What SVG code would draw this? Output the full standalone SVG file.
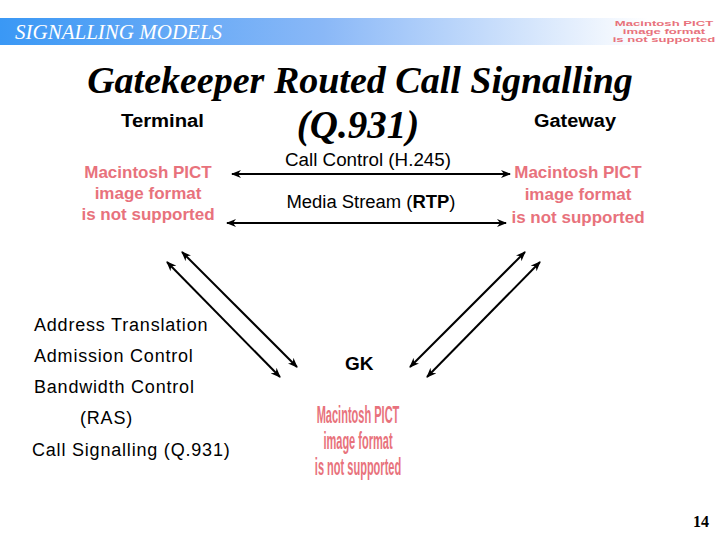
<svg xmlns="http://www.w3.org/2000/svg" width="720" height="540" viewBox="0 0 720 540">
<style>
.sans{font-family:"Liberation Sans",Arial,sans-serif;fill:#000}
.b{font-weight:bold}
.pict{font-family:"Liberation Sans",Arial,sans-serif;font-weight:bold;fill:#E8727C;text-anchor:middle}
.conn line{stroke:#000;fill:none}
</style>
<defs>
<linearGradient id="bar" x1="0" y1="0" x2="1" y2="0">
<stop offset="0" stop-color="#3A98F5"/>
<stop offset="0.45" stop-color="#8AB8F7"/>
<stop offset="0.9" stop-color="#ffffff"/>
</linearGradient>
<marker id="ah" viewBox="0 0 10 8" refX="9" refY="4" markerWidth="5" markerHeight="4" orient="auto-start-reverse" markerUnits="strokeWidth">
<path d="M0,0 L10,4 L0,8 L3,4 z" fill="#000"/>
</marker>
</defs>
<rect width="720" height="540" fill="#fff"/>
<rect x="0" y="18" width="720" height="27" fill="url(#bar)"/>
<text x="15" y="39" font-family="Liberation Serif,serif" font-style="italic" font-size="21" fill="#fff">SIGNALLING MODELS</text>
<g id="logo-pict" transform="translate(664,0) scale(1.75,1)">
<text class="pict" x="0" y="26" font-size="7.5">Macintosh PICT</text>
<text class="pict" x="0" y="34" font-size="7.5">image format</text>
<text class="pict" x="0" y="42" font-size="7.5">is not supported</text>
</g>
<text x="360" y="93" text-anchor="middle" font-family="Liberation Serif,serif" font-style="italic" font-weight="bold" font-size="38">Gatekeeper Routed Call Signalling</text>
<text x="358" y="138" text-anchor="middle" font-family="Liberation Serif,serif" font-style="italic" font-weight="bold" font-size="39">(Q.931)</text>
<g id="terminal">
<text class="sans b" x="121" y="127" font-size="18" textLength="83" lengthAdjust="spacingAndGlyphs">Terminal</text>
<text class="pict" x="148" y="178" font-size="17">Macintosh PICT</text>
<text class="pict" x="148" y="199" font-size="17">image format</text>
<text class="pict" x="148" y="220" font-size="17">is not supported</text>
</g>
<g id="gateway">
<text class="sans b" x="534" y="127" font-size="18" textLength="82" lengthAdjust="spacingAndGlyphs">Gateway</text>
<text class="pict" x="578" y="178" font-size="17">Macintosh PICT</text>
<text class="pict" x="578" y="200" font-size="17">image format</text>
<text class="pict" x="578" y="223" font-size="17">is not supported</text>
</g>
<g id="gk">
<text class="sans b" x="345" y="370" font-size="19">GK</text>
<g transform="translate(358,0) scale(0.48,1)">
<text class="pict" x="0" y="423" font-size="23">Macintosh PICT</text>
<text class="pict" x="0" y="449" font-size="23">image format</text>
<text class="pict" x="0" y="475" font-size="23">is not supported</text>
</g>
</g>
<g id="labels" class="sans" font-size="18" letter-spacing="0.8">
<text x="34" y="331">Address Translation</text>
<text x="34" y="362">Admission Control</text>
<text x="34" y="393">Bandwidth Control</text>
<text x="80" y="424">(RAS)</text>
<text x="32" y="456">Call Signalling (Q.931)</text>
</g>
<g id="connectors" class="conn">
<line x1="232" y1="174" x2="510" y2="174" stroke-width="2" marker-start="url(#ah)" marker-end="url(#ah)"/>
<line x1="227" y1="223" x2="506" y2="223" stroke-width="2" marker-start="url(#ah)" marker-end="url(#ah)"/>
<line x1="182" y1="252" x2="297" y2="367" stroke-width="2" marker-start="url(#ah)" marker-end="url(#ah)"/>
<line x1="167" y1="262" x2="280" y2="377" stroke-width="2" marker-start="url(#ah)" marker-end="url(#ah)"/>
<line x1="525" y1="252" x2="410" y2="367" stroke-width="2" marker-start="url(#ah)" marker-end="url(#ah)"/>
<line x1="540" y1="262" x2="427" y2="377" stroke-width="2" marker-start="url(#ah)" marker-end="url(#ah)"/>
</g>
<g id="edge-labels" class="sans" font-size="18">
<text x="368" y="166" text-anchor="middle" textLength="166" lengthAdjust="spacingAndGlyphs">Call Control (H.245)</text>
<text x="371" y="208" text-anchor="middle" textLength="169" lengthAdjust="spacingAndGlyphs">Media Stream (<tspan font-weight="bold">RTP</tspan>)</text>
</g>
<text x="693" y="527" font-family="Liberation Serif,serif" font-weight="bold" font-size="16">14</text>
</svg>
